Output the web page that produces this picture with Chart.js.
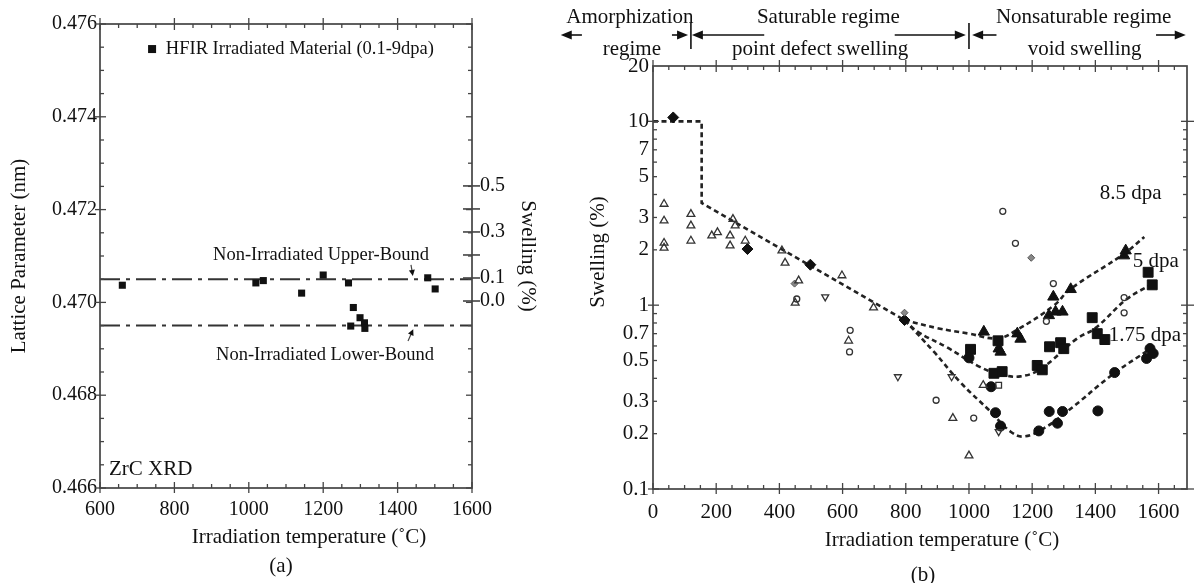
<!DOCTYPE html>
<html lang="en">
<head>
<meta charset="UTF-8">
<title>ZrC lattice parameter and SiC swelling vs irradiation temperature</title>
<script src="https://cdn.jsdelivr.net/npm/chart.js"></script>
<style>
  body { margin: 0; background: #fff; }
  #wrap { position: relative; width: 1199px; height: 583px; }
  #chartA { position: absolute; left: 0; top: 0; }
  #chartB { position: absolute; left: 540px; top: 0; }
</style>
</head>
<body>
<div id="wrap">
  <canvas id="chartA" width="560" height="583"></canvas>
  <canvas id="chartB" width="659" height="583"></canvas>
</div>
<script>
// ---------- (a) ZrC XRD lattice parameter ----------
const hfirTemp = [660, 1019, 1039, 1142, 1200, 1268, 1481, 1501, 1281, 1274, 1299, 1311, 1312];
const hfirLattice = [0.47037, 0.47042, 0.47047, 0.47020, 0.47059, 0.47042, 0.47053, 0.47029,
                     0.46989, 0.46949, 0.46967, 0.46956, 0.46944];
const upperBound = 0.4705;
const lowerBound = 0.4695;
const tempTicksA = [600, 800, 1000, 1200, 1400, 1600];
const latticeTicks = [0.466, 0.468, 0.470, 0.472, 0.474, 0.476];
const swellTicksA = [0, 0.1, 0.2, 0.3, 0.4, 0.5];
const swellLabelsA = ['0.0', '0.1', '', '0.3', '', '0.5'];

// ---------- (b) swelling vs irradiation temperature ----------
const tempTicksB = [0, 200, 400, 600, 800, 1000, 1200, 1400, 1600];
const swellTicksB = [0.1, 0.2, 0.3, 0.5, 0.7, 1, 2, 3, 5, 7, 10, 20];

const openTriT = [35, 35, 35, 35, 120, 120, 120, 186, 204, 244, 244, 253, 260, 292, 408, 418, 461, 450, 598, 619, 698, 949, 1000, 1045];
const openTriS = [3.55, 2.88, 2.18, 2.05, 3.13, 2.71, 2.24, 2.39, 2.49, 2.39, 2.11, 2.94, 2.71, 2.24, 1.98, 1.70, 1.36, 1.03, 1.45, 0.64, 0.97, 0.243, 0.152, 0.367];
const invTriT = [545, 775, 945, 1094];
const invTriS = [1.11, 0.408, 0.408, 0.205];
const openCircT = [455, 624, 622, 896, 1015, 1107, 1147, 1267, 1245, 1491, 1491];
const openCircS = [1.08, 0.73, 0.557, 0.304, 0.243, 3.24, 2.17, 1.31, 0.817, 1.10, 0.908];
const greyDiaT = [448, 796, 1197];
const greyDiaS = [1.31, 0.91, 1.81];
const blackDiaT = [64, 299, 498, 796];
const blackDiaS = [10.5, 2.02, 1.66, 0.83];
const openSqT = [1094];
const openSqS = [0.367];
const circ175T = [1000, 1070, 1084, 1100, 1221, 1254, 1296, 1280, 1408, 1461, 1562, 1573, 1583];
const circ175S = [0.517, 0.36, 0.26, 0.22, 0.207, 0.264, 0.264, 0.228, 0.266, 0.43, 0.513, 0.581, 0.546];
const sq5T = [1005, 1079, 1105, 1092, 1216, 1232, 1255, 1290, 1300, 1390, 1406, 1430, 1567, 1580];
const sq5S = [0.575, 0.426, 0.435, 0.64, 0.47, 0.445, 0.594, 0.625, 0.58, 0.855, 0.70, 0.65, 1.51, 1.29];
const tri85T = [1047, 1094, 1100, 1153, 1163, 1267, 1322, 1253, 1274, 1296, 1491, 1496];
const tri85S = [0.716, 0.58, 0.557, 0.70, 0.655, 1.11, 1.22, 0.88, 0.92, 0.92, 1.86, 1.98];

const trendT = [0, 154, 154, 796];
const trendS = [10, 10, 3.6, 0.83];
const fit85T = [796, 900, 1000, 1090, 1150, 1270, 1320, 1490, 1555];
const fit85S = [0.83, 0.75, 0.70, 0.66, 0.73, 1.0, 1.22, 1.9, 2.35];
const fit5T = [796, 836, 930, 1036, 1100, 1163, 1227, 1343, 1400, 1500, 1586];
const fit5S = [0.83, 0.72, 0.59, 0.46, 0.42, 0.41, 0.45, 0.66, 0.75, 1.08, 1.32];
const fit175T = [796, 888, 973, 1068, 1132, 1174, 1237, 1311, 1459, 1575];
const fit175S = [0.83, 0.56, 0.38, 0.264, 0.205, 0.193, 0.214, 0.264, 0.425, 0.58];

Chart.defaults.font.family = "'Liberation Serif', 'Times New Roman', serif";
Chart.defaults.color = '#111';
Chart.defaults.animation = false;

const INK = '#111';
const FRAME = '#444';
const SERIF = '"Liberation Serif", "Times New Roman", serif';

function pts(xs, ys) { return xs.map((x, i) => ({ x: x, y: ys[i] })); }
function range(from, to, step) {
  const out = [];
  for (let v = from; v <= to + 1e-9; v += step) out.push(+v.toFixed(6));
  return out;
}
function seg(ctx, x1, y1, x2, y2) { ctx.beginPath(); ctx.moveTo(x1, y1); ctx.lineTo(x2, y2); ctx.stroke(); }
function arrow(ctx, x1, y1, x2, y2, head, w) {
  const a = Math.atan2(y2 - y1, x2 - x1), c = Math.cos(a), s = Math.sin(a);
  seg(ctx, x1, y1, x2 - c * head * 0.8, y2 - s * head * 0.8);
  ctx.beginPath();
  ctx.moveTo(x2, y2);
  ctx.lineTo(x2 - head * c + w * s, y2 - head * s - w * c);
  ctx.lineTo(x2 - head * c - w * s, y2 - head * s + w * c);
  ctx.closePath();
  ctx.fill();
}

// box around the plot with ticks crossing / pointing inward
const framePlugin = {
  id: 'frame',
  afterDatasetsDraw(chart, args, o) {
    const { ctx, chartArea: a, scales } = chart;
    const x = scales.x, y = scales.y;
    ctx.save();
    ctx.strokeStyle = FRAME;
    ctx.lineWidth = 1.7;
    ctx.strokeRect(a.left, a.top, a.right - a.left, a.bottom - a.top);
    ctx.lineWidth = 1.3;
    o.xMajor.forEach(v => {
      const p = x.getPixelForValue(v);
      seg(ctx, p, a.bottom - 6, p, a.bottom + 5);
      seg(ctx, p, a.top - 6, p, a.top + 6);
    });
    o.xMinor.forEach(v => {
      const p = x.getPixelForValue(v);
      seg(ctx, p, a.bottom - 4, p, a.bottom);
      seg(ctx, p, a.top, p, a.top + 4);
    });
    o.yMajor.forEach(v => {
      const p = y.getPixelForValue(v);
      seg(ctx, a.left - 5, p, a.left + 6, p);
      seg(ctx, a.right - 6, p, a.right + o.rightOut, p);
    });
    o.yMinor.forEach(v => {
      const p = y.getPixelForValue(v);
      seg(ctx, a.left, p, a.left + 4, p);
      seg(ctx, a.right - 4, p, a.right, p);
    });
    ctx.restore();
  }
};

const hiddenGrid = { display: false, drawTicks: false };

// ---------- chart (a) ----------
const notesA = {
  id: 'notesA',
  afterDraw(chart) {
    const { ctx, chartArea: a, scales: { x, y, y2 } } = chart;
    ctx.save();
    ctx.strokeStyle = FRAME;
    ctx.fillStyle = INK;
    ctx.lineWidth = 1.6;
    swellTicksA.forEach(v => {
      const p = y2.getPixelForValue(v);
      seg(ctx, a.right - 9, p, a.right + 8, p);
    });
    // legend entry
    const ly = y.getPixelForValue(0.47546);
    const lx = x.getPixelForValue(740);
    ctx.fillRect(lx - 4, ly - 4, 8, 8);
    ctx.font = '18.5px ' + SERIF;
    ctx.textAlign = 'left';
    ctx.textBaseline = 'middle';
    ctx.fillText('HFIR Irradiated Material (0.1-9dpa)', x.getPixelForValue(777), ly);
    ctx.fillText('Non-Irradiated Upper-Bound', x.getPixelForValue(904), y.getPixelForValue(0.47102));
    ctx.fillText('Non-Irradiated Lower-Bound', x.getPixelForValue(912), y.getPixelForValue(0.46887));
    ctx.font = '21px ' + SERIF;
    ctx.fillText('ZrC XRD', x.getPixelForValue(624), y.getPixelForValue(0.46639));
    // pointer arrows to the bound lines
    ctx.lineWidth = 1.2;
    arrow(ctx, x.getPixelForValue(1436), y.getPixelForValue(0.47081), x.getPixelForValue(1441), y.getPixelForValue(0.47057), 6, 3);
    arrow(ctx, x.getPixelForValue(1428), y.getPixelForValue(0.46917), x.getPixelForValue(1442), y.getPixelForValue(0.46942), 6, 3);
    // x title and panel tag
    ctx.textAlign = 'center';
    ctx.fillText('Irradiation temperature (\u02daC)', 309, 537);
    ctx.fillText('(a)', 281, 566);
    ctx.restore();
  }
};

new Chart(document.getElementById('chartA'), {
  type: 'scatter',
  data: {
    datasets: [
      {
        label: 'HFIR Irradiated Material (0.1-9dpa)',
        data: pts(hfirTemp, hfirLattice),
        pointStyle: 'rect', pointRadius: 5, backgroundColor: INK, borderColor: INK, borderWidth: 0
      },
      {
        label: 'Non-Irradiated Upper-Bound',
        data: pts([600, 1600], [upperBound, upperBound]),
        showLine: true, pointRadius: 0, borderColor: '#333', borderWidth: 2, borderDash: [20, 6, 4, 6]
      },
      {
        label: 'Non-Irradiated Lower-Bound',
        data: pts([600, 1600], [lowerBound, lowerBound]),
        showLine: true, pointRadius: 0, borderColor: '#333', borderWidth: 2, borderDash: [20, 6, 4, 6]
      }
    ]
  },
  options: {
    responsive: false,
    devicePixelRatio: 1,
    layout: { padding: { top: 24, left: 0, right: 0, bottom: 0 } },
    plugins: {
      legend: { display: false },
      tooltip: { enabled: false },
      frame: {
        xMajor: tempTicksA, xMinor: range(650, 1550, 50).filter(v => v % 200 !== 0),
        yMajor: latticeTicks, yMinor: range(0.4665, 0.4755, 0.0005).filter(v => Math.round(v * 1e4) % 20 !== 0),
        rightOut: 0
      }
    },
    scales: {
      x: {
        type: 'linear', min: 600, max: 1600,
        afterBuildTicks: s => { s.ticks = tempTicksA.map(v => ({ value: v })); },
        ticks: { padding: 10, font: { size: 20 }, color: INK, autoSkip: false, maxRotation: 0, callback: v => String(v) },
        grid: hiddenGrid, border: { display: false },
        afterFit: s => { s.height = 95; }
      },
      y: {
        type: 'linear', position: 'left', min: 0.466, max: 0.476,
        afterBuildTicks: s => { s.ticks = latticeTicks.map(v => ({ value: v })); },
        ticks: { padding: 3, font: { size: 20 }, color: INK, autoSkip: false, callback: v => v.toFixed(3) },
        grid: hiddenGrid, border: { display: false },
        title: { display: true, text: 'Lattice Parameter (nm)', font: { size: 21 }, color: INK, padding: { top: 7 } },
        afterFit: s => { s.width = 100; }
      },
      y2: {
        type: 'linear', position: 'right', min: -0.8125, max: 1.2036,
        afterBuildTicks: s => { s.ticks = swellTicksA.map(v => ({ value: v })); },
        ticks: { padding: 8, font: { size: 20 }, color: INK, autoSkip: false,
                 callback: v => swellLabelsA[swellTicksA.indexOf(v)] },
        grid: hiddenGrid, border: { display: false },
        title: { display: true, text: 'Swelling (%)', font: { size: 21 }, color: INK, padding: { top: 20 } },
        afterFit: s => { s.width = 88; }
      }
    }
  },
  plugins: [framePlugin, notesA]
});

// ---------- chart (b) ----------
const dpaLabels = [['8.5 dpa', 1414, 4.07], ['5 dpa', 1518, 1.72], ['1.75 dpa', 1442, 0.684]];
const regimeText = [
  ['Amorphization', -73, 0], ['regime', -67, 1],
  ['Saturable regime', 555, 0], ['point defect swelling', 529, 1],
  ['Nonsaturable regime', 1363, 0], ['void swelling', 1366, 1]
];
const regimeArrows = [[-225, -292], [60, 111], [352, 123], [765, 990], [1087, 1010], [1592, 1686]];
const regimeBounds = [120, 1000];

const notesB = {
  id: 'notesB',
  afterDraw(chart) {
    const { ctx, scales: { x, y } } = chart;
    ctx.save();
    ctx.fillStyle = INK;
    ctx.strokeStyle = INK;
    ctx.font = '21px ' + SERIF;
    ctx.textAlign = 'left';
    ctx.textBaseline = 'middle';
    dpaLabels.forEach(([t, tx, sv]) => ctx.fillText(t, x.getPixelForValue(tx), y.getPixelForValue(sv)));
    // regime header
    ctx.textAlign = 'center';
    ctx.textBaseline = 'alphabetic';
    regimeText.forEach(([t, tx, row]) => ctx.fillText(t, x.getPixelForValue(tx), row === 0 ? 23 : 55));
    ctx.lineWidth = 1.6;
    regimeArrows.forEach(([from, to]) => arrow(ctx, x.getPixelForValue(from), 35, x.getPixelForValue(to), 35, 11, 4.5));
    regimeBounds.forEach(t => { const p = x.getPixelForValue(t); seg(ctx, p, 23, p, 49); });
    // axis titles and panel tag
    ctx.textBaseline = 'middle';
    ctx.fillText('Irradiation temperature (\u02daC)', 402, 540);
    ctx.fillText('(b)', 383, 575);
    ctx.translate(58, 252);
    ctx.rotate(-Math.PI / 2);
    ctx.fillText('Swelling (%)', 0, 0);
    ctx.restore();
  }
};

const openMark = { backgroundColor: 'rgba(255,255,255,0)', borderColor: '#333', borderWidth: 1.3, order: 1 };
const solidMark = { backgroundColor: INK, borderColor: INK, borderWidth: 1, order: 1 };
const dashLine = { showLine: true, pointRadius: 0, borderColor: '#222', borderWidth: 2.6, borderDash: [5, 3.5], order: 5 };

new Chart(document.getElementById('chartB'), {
  type: 'scatter',
  data: {
    datasets: [
      Object.assign({ label: 'open triangles', data: pts(openTriT, openTriS), pointStyle: 'triangle', pointRadius: 4.5 }, openMark),
      Object.assign({ label: 'inverted triangles', data: pts(invTriT, invTriS), pointStyle: 'triangle', rotation: 180, pointRadius: 4 }, openMark),
      Object.assign({ label: 'open circles', data: pts(openCircT, openCircS), pointStyle: 'circle', pointRadius: 3 }, openMark),
      Object.assign({ label: 'open squares', data: pts(openSqT, openSqS), pointStyle: 'rect', pointRadius: 4 }, openMark),
      { label: 'grey diamonds', data: pts(greyDiaT, greyDiaS), pointStyle: 'rectRot', pointRadius: 3.5,
        backgroundColor: '#888', borderColor: '#555', borderWidth: 1, order: 1 },
      Object.assign({ label: 'black diamonds', data: pts(blackDiaT, blackDiaS), pointStyle: 'rectRot', pointRadius: 5.5 }, solidMark),
      Object.assign({ label: '1.75 dpa', data: pts(circ175T, circ175S), pointStyle: 'circle', pointRadius: 5 }, solidMark),
      Object.assign({ label: '5 dpa', data: pts(sq5T, sq5S), pointStyle: 'rect', pointRadius: 7 }, solidMark),
      Object.assign({ label: '8.5 dpa', data: pts(tri85T, tri85S), pointStyle: 'triangle', pointRadius: 6.5 }, solidMark),
      Object.assign({ label: 'trend', data: pts(trendT, trendS), tension: 0 }, dashLine),
      Object.assign({ label: 'fit 8.5 dpa', data: pts(fit85T, fit85S), tension: 0.4 }, dashLine),
      Object.assign({ label: 'fit 5 dpa', data: pts(fit5T, fit5S), tension: 0.4 }, dashLine),
      Object.assign({ label: 'fit 1.75 dpa', data: pts(fit175T, fit175S), tension: 0.4 }, dashLine)
    ]
  },
  options: {
    responsive: false,
    devicePixelRatio: 1,
    layout: { padding: { top: 66, left: 0, right: 12, bottom: 0 } },
    plugins: {
      legend: { display: false },
      tooltip: { enabled: false },
      frame: {
        xMajor: tempTicksB, xMinor: range(50, 1650, 50).filter(v => v % 200 !== 0),
        yMajor: [0.1, 1, 10], yMinor: [0.2, 0.3, 0.4, 0.5, 0.6, 0.7, 0.8, 0.9, 2, 3, 4, 5, 6, 7, 8, 9],
        rightOut: 7
      }
    },
    scales: {
      x: {
        type: 'linear', min: 0, max: 1690,
        afterBuildTicks: s => { s.ticks = tempTicksB.map(v => ({ value: v })); },
        ticks: { padding: 11, font: { size: 21 }, color: INK, autoSkip: false, maxRotation: 0, callback: v => String(v) },
        grid: hiddenGrid, border: { display: false },
        afterFit: s => { s.height = 94; }
      },
      y: {
        type: 'logarithmic', min: 0.1, max: 20,
        afterBuildTicks: s => { s.ticks = swellTicksB.map(v => ({ value: v })); },
        ticks: { padding: 4, font: { size: 21 }, color: INK, autoSkip: false, callback: v => String(v) },
        grid: hiddenGrid, border: { display: false },
        afterFit: s => { s.width = 113; }
      }
    }
  },
  plugins: [framePlugin, notesB]
});
</script>
</body>
</html>
